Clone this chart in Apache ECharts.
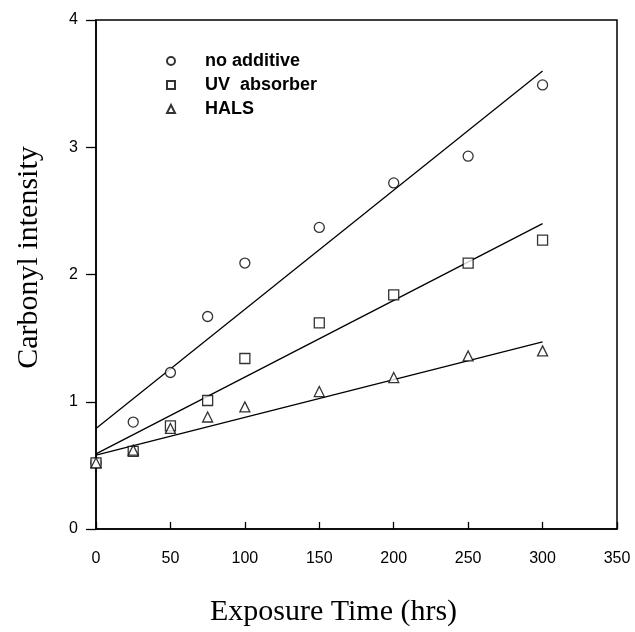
<!DOCTYPE html>
<html>
<head>
<meta charset="utf-8">
<script src="https://cdn.jsdelivr.net/npm/echarts@6/dist/echarts.min.js"></script>
<style>html,body{margin:0;padding:0;background:#fff;}#c{width:635px;height:632px;}</style>
</head>
<body>
<div id="c"></div>
<script>
var times = [0, 25, 50, 75, 100, 150, 200, 250, 300];
var noAdditive = [0.52, 0.84, 1.23, 1.67, 2.09, 2.37, 2.72, 2.93, 3.49];
var uvAbsorber = [0.52, 0.61, 0.81, 1.01, 1.34, 1.62, 1.84, 2.09, 2.27];
var hals = [0.52, 0.62, 0.79, 0.88, 0.96, 1.08, 1.19, 1.36, 1.40];
var fitX = [0, 300];
var fitNoAdditive = [0.79, 3.60];
var fitUv = [0.59, 2.40];
var fitHals = [0.58, 1.47];
var seriesNames = ['no additive', 'UV  absorber', 'HALS'];

function pts(ys, xs) { return xs.map(function (x, i) { return [x, ys[i]]; }); }
var markerStyle = { color: '#fff', borderColor: '#000', borderWidth: 1.3 };
var lineStyle = { color: '#000', width: 1.3 };

var chart = echarts.init(document.getElementById('c'));
chart.setOption({
  animation: false,
  backgroundColor: '#fff',
  grid: { left: 96, right: 18, top: 20, bottom: 102, show: true, borderColor: '#000', borderWidth: 1.5, backgroundColor: 'transparent' },
  legend: {
    left: 166, top: 52, padding: 0, orient: 'vertical', itemGap: 6, itemWidth: 8, itemHeight: 8,
    data: seriesNames,
    textStyle: { fontFamily: 'Liberation Sans, Arial', fontSize: 18, color: '#000', fontWeight: 'bold', padding: [0, 0, 0, 25] }
  },
  xAxis: {
    type: 'value', min: 0, max: 350, interval: 50,
    name: 'Exposure Time (hrs)', nameLocation: 'middle', nameGap: 68,
    nameTextStyle: { fontFamily: 'Liberation Serif, Times New Roman', fontSize: 30, color: '#000', padding: [0, 46, 0, 0] },
    axisLine: { lineStyle: { color: '#000', width: 1.5 } },
    axisTick: { inside: true, length: 7, lineStyle: { color: '#000', width: 1.3 } },
    axisLabel: { fontFamily: 'Liberation Sans, Arial', fontSize: 16, color: '#000', margin: 22 },
    splitLine: { show: false }
  },
  yAxis: {
    type: 'value', min: 0, max: 4, interval: 1,
    name: 'Carbonyl intensity', nameLocation: 'middle', nameGap: 52, nameRotate: 90,
    nameTextStyle: { fontFamily: 'Liberation Serif, Times New Roman', fontSize: 30, color: '#000', padding: [0, 0, 0, 34] },
    axisLine: { lineStyle: { color: '#000', width: 1.5 } },
    axisTick: { inside: false, length: 10, lineStyle: { color: '#000', width: 1.3 } },
    axisLabel: { fontFamily: 'Liberation Sans, Arial', fontSize: 16, color: '#000', margin: 18 },
    splitLine: { show: false }
  },
  series: [
    { name: seriesNames[0], type: 'scatter', symbol: 'circle', symbolSize: 10, itemStyle: markerStyle, data: pts(noAdditive, times), z: 3 },
    { name: seriesNames[1], type: 'scatter', symbol: 'rect', symbolSize: 10, itemStyle: markerStyle, data: pts(uvAbsorber, times), z: 3 },
    { name: seriesNames[2], type: 'scatter', symbol: 'triangle', symbolSize: 10, itemStyle: markerStyle, data: pts(hals, times), z: 3 },
    { type: 'line', data: pts(fitNoAdditive, fitX), symbol: 'none', lineStyle: lineStyle, z: 2 },
    { type: 'line', data: pts(fitUv, fitX), symbol: 'none', lineStyle: lineStyle, z: 2 },
    { type: 'line', data: pts(fitHals, fitX), symbol: 'none', lineStyle: lineStyle, z: 2 }
  ]
});
</script>
</body>
</html>
